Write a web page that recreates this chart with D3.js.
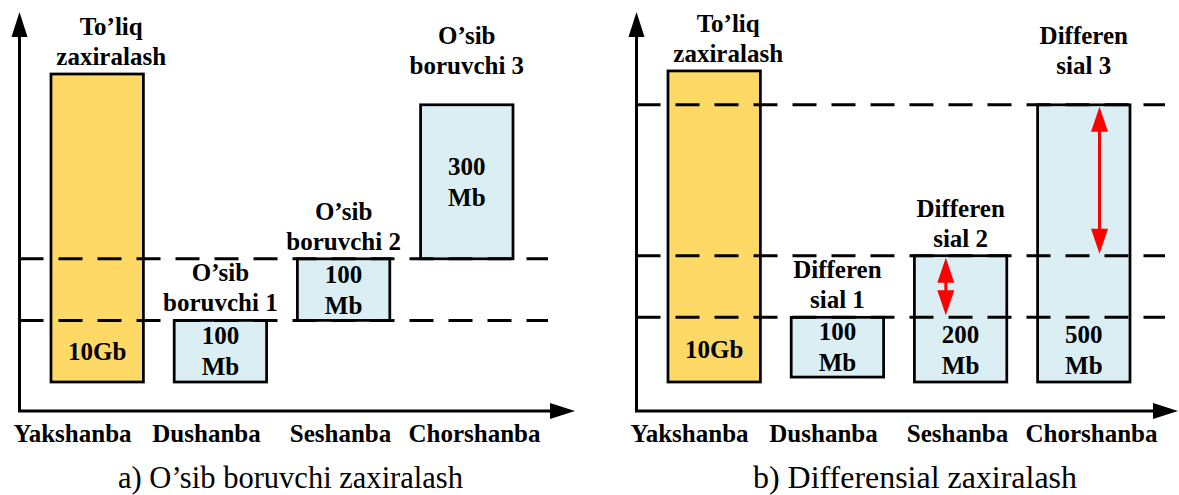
<!DOCTYPE html>
<html>
<head>
<meta charset="utf-8">
<script src="https://cdn.jsdelivr.net/npm/d3@7"></script>
<style>
  body { margin: 0; background: #fff; font-family: "Liberation Serif", serif; }
  svg { display: block; }
</style>
</head>
<body>
<script>
// categories (days)
const days = ["Yakshanba", "Dushanba", "Seshanba", "Chorshanba"];

// a) incremental backup: box bottom / top levels (1 unit ~ one backup step)
const incStart = [0, 0, 1, 2];
const incEnd = [5, 1, 2, 4.5];
const incValue = [["10Gb"], ["100", "Mb"], ["100", "Mb"], ["300", "Mb"]];
const incTitle = [["To’liq", "zaxiralash"], ["O’sib", "boruvchi 1"], ["O’sib", "boruvchi 2"], ["O’sib", "boruvchi 3"]];
const incGuides = [1, 2];

// b) differential backup
const difStart = [0, 0.08, 0, 0];
const difEnd = [5.05, 1.05, 2.05, 4.5];
const difValue = [["10Gb"], ["100", "Mb"], ["200", "Mb"], ["500", "Mb"]];
const difTitle = [["To’liq", "zaxiralash"], ["Differen", "sial 1"], ["Differen", "sial 2"], ["Differen", "sial 3"]];
const difGuides = [1.05, 2.05, 4.5];
const arrowDay = ["Seshanba", "Chorshanba"];
const arrowFrom = [1.05, 2.05];
const arrowTo = [2.05, 4.5];

const captions = ["a) O’sib boruvchi zaxiralash", "b) Differensial zaxiralash"];

const serif = "Liberation Serif";
const fullColor = "#FFD966", incColor = "#DAEEF3";

const svg = d3.select("body").append("svg").attr("width", 1179).attr("height", 495)
  .style("font-family", serif);

const x = d3.scaleBand().domain(days).range([51, 513]).paddingInner(0.25).paddingOuter(0);
const xl = d3.scalePoint().domain(days).range([72, 474]);
const y = d3.scaleLinear().domain([0, 5]).range([382, 74]);

function drawPanel(offset, p) {
  const g = svg.append("g").attr("transform", `translate(${offset},0)`);
  const axX = 19.5, baseY = 411, topY = 12, head = 25;

  // boxes
  const rows = days.map((d, i) => ({day: d, s: p.start[i], e: p.end[i], v: p.value[i], t: p.title[i], i}));
  g.selectAll("rect.box").data(rows).join("rect")
    .attr("class", "box")
    .attr("x", d => x(d.day))
    .attr("y", d => y(d.e))
    .attr("width", x.bandwidth())
    .attr("height", d => y(d.s) - y(d.e))
    .attr("fill", d => d.i === 0 ? fullColor : incColor)
    .attr("stroke", "#000")
    .attr("stroke-width", 2.75);

  // dashed guide lines
  g.selectAll("line.guide").data(p.guides).join("line")
    .attr("class", "guide")
    .attr("x1", axX).attr("x2", 548)
    .attr("y1", d => y(d)).attr("y2", d => y(d))
    .attr("stroke", "#000").attr("stroke-width", 3)
    .attr("stroke-dasharray", "24,15");

  // axes
  g.append("line").attr("x1", axX).attr("x2", axX).attr("y1", baseY).attr("y2", topY + head - 2)
    .attr("stroke", "#000").attr("stroke-width", 3);
  g.append("path").attr("d", `M${axX},${topY}L${axX - 8},${topY + head}L${axX + 8},${topY + head}Z`).attr("fill", "#000");
  g.append("line").attr("x1", axX - 1.5).attr("x2", p.axisEnd - head + 2).attr("y1", baseY).attr("y2", baseY)
    .attr("stroke", "#000").attr("stroke-width", 3);
  g.append("path").attr("d", `M${p.axisEnd},${baseY}L${p.axisEnd - head},${baseY - 8}L${p.axisEnd - head},${baseY + 8}Z`).attr("fill", "#000");

  const ax = g.append("g").attr("transform", `translate(0,${baseY})`)
    .call(d3.axisBottom(xl).tickSize(0).tickPadding(13));
  ax.select(".domain").remove();
  ax.attr("font-family", serif);
  ax.selectAll("text")
    .style("font-family", serif)
    .attr("font-size", 25).attr("font-weight", "bold").attr("fill", "#000");

  // value labels, centred in the lowest segment of each box
  const lh = 31, cap = 17;
  rows.forEach(d => {
    const above = p.guides.filter(v => v > d.s + 1e-6);
    const segTop = Math.min(d.e, above.length ? d3.min(above) : d.e);
    const cy = (y(d.s) + y(segTop)) / 2;
    const n = d.v.length;
    g.append("g").selectAll("text").data(d.v).join("text")
      .attr("x", x(d.day) + x.bandwidth() / 2)
      .attr("y", (t, k) => cy + cap / 2 + (k - (n - 1) / 2) * lh)
      .attr("text-anchor", "middle")
      .style("font-family", serif)
      .attr("font-size", 25).attr("font-weight", "bold")
      .text(t => t);

    // titles above the boxes
    const lift = d.i === 3 ? 22 : 0;
    const dx = d.i === 0 ? 14 : 0;
    const m = d.t.length;
    g.append("g").selectAll("text").data(d.t).join("text")
      .attr("x", x(d.day) + x.bandwidth() / 2 + dx)
      .attr("y", (t, k) => y(d.e) - 9 - lift - (m - 1 - k) * 30)
      .attr("text-anchor", "middle")
      .style("font-family", serif)
      .attr("font-size", 25).attr("font-weight", "bold")
      .text(t => t);
  });

  // red difference arrows
  const arrowPos = {Seshanba: 0.34, Chorshanba: 0.67};
  (p.arrows || []).forEach(a => {
    const ax0 = x(a.day) + x.bandwidth() * arrowPos[a.day];
    const y1 = y(a.to) + 2, y2 = y(a.from) - 2, hl = 25, hw = 8.5;
    g.append("line").attr("x1", ax0).attr("x2", ax0).attr("y1", y1 + hl - 3).attr("y2", y2 - hl + 3)
      .attr("stroke", "#FF0000").attr("stroke-width", 3);
    g.append("path").attr("fill", "#FF0000")
      .attr("d", `M${ax0},${y1}L${ax0 - hw},${y1 + hl}L${ax0 + hw},${y1 + hl}Z` +
                 `M${ax0},${y2}L${ax0 - hw},${y2 - hl}L${ax0 + hw},${y2 - hl}Z`);
  });

  // caption
  g.append("text")
    .attr("x", p.capX).attr("y", 488)
    .attr("text-anchor", "middle")
    .style("font-family", serif)
    .attr("font-size", 32)
    .attr("textLength", p.capW).attr("lengthAdjust", "spacingAndGlyphs")
    .text(p.caption);
}

drawPanel(0, {
  start: incStart, end: incEnd, value: incValue, title: incTitle, guides: incGuides,
  axisEnd: 575, caption: captions[0], capX: 290.5, capW: 345
});
drawPanel(617, {
  start: difStart, end: difEnd, value: difValue, title: difTitle, guides: difGuides,
  arrows: arrowDay.map((d, i) => ({day: d, from: arrowFrom[i], to: arrowTo[i]})),
  axisEnd: 561, caption: captions[1], capX: 298, capW: 324
});
</script>
</body>
</html>
